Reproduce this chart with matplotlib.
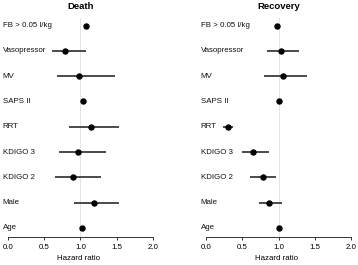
import matplotlib
matplotlib.use('Agg')
import matplotlib.pyplot as plt
import numpy as np

plt.rcParams['font.family'] = ['Liberation Sans', 'DejaVu Sans']

# rows from top to bottom
labels = ['FB > 0.05 l/kg', 'Vasopressor', 'MV', 'SAPS II', 'RRT',
          'KDIGO 3', 'KDIGO 2', 'Male', 'Age']

death_hr = [1.08, 0.79, 0.98, 1.03, 1.15, 0.97, 0.90, 1.19, 1.02]
death_lo = [1.06, 0.60, 0.68, 1.02, 0.84, 0.70, 0.65, 0.91, 1.01]
death_hi = [1.11, 1.07, 1.48, 1.04, 1.53, 1.36, 1.28, 1.54, 1.03]

rec_hr = [0.98, 1.03, 1.06, 1.00, 0.30, 0.65, 0.78, 0.87, 1.00]
rec_lo = [0.97, 0.84, 0.80, 0.99, 0.23, 0.49, 0.61, 0.73, 0.99]
rec_hi = [0.99, 1.28, 1.39, 1.01, 0.37, 0.87, 0.97, 1.05, 1.01]

ticks = [0.0, 0.5, 1.0, 1.5, 2.0]

W, H = 358, 265
fig = plt.figure(figsize=(W / 100, H / 100), dpi=100)


def forest(ax, title, hr, lo, hi):
    y = np.arange(len(labels), 0, -1)
    ax.axvline(1.0, color='#e4e4e4', lw=0.7, zorder=0)
    ax.hlines(y, lo, hi, color='#444444', lw=1.35, zorder=1)
    ax.plot(hr, y, 'o', color='black', ms=3.6, zorder=2)
    for yi, lab in zip(y, labels):
        ax.text(-0.08, yi, lab, ha='left', va='center', fontsize=5.7,
                color='#111111', clip_on=False)
    ax.text(1.0, 9.77, title, ha='center', va='center', fontsize=6.8,
            fontweight='bold', clip_on=False)
    ax.set_xlim(-0.1, 2.05)
    ax.set_ylim(0.644, 9.30)
    for s in ['top', 'right', 'left']:
        ax.spines[s].set_visible(False)
    ax.spines['bottom'].set_bounds(0, 2)
    ax.spines['bottom'].set_color('#333333')
    ax.spines['bottom'].set_linewidth(0.7)
    ax.set_yticks([])
    ax.set_xticks(ticks)
    ax.set_xticklabels(['%.1f' % t for t in ticks])
    ax.tick_params(axis='x', length=2.2, width=0.7, pad=2.5, labelsize=5.7,
                   color='#333333')
    ax.set_xlabel('Hazard ratio', fontsize=5.7, labelpad=3.5)
    ax.patch.set_visible(False)


bottom = 1 - 237 / H
height = (237 - 18) / H
ax1 = fig.add_axes([1.07 / W, bottom, 155.2 / W, height])
ax2 = fig.add_axes([199.1 / W, bottom, 155.5 / W, height])

forest(ax1, 'Death', death_hr, death_lo, death_hi)
forest(ax2, 'Recovery', rec_hr, rec_lo, rec_hi)

fig.savefig('out.png', dpi=100)
